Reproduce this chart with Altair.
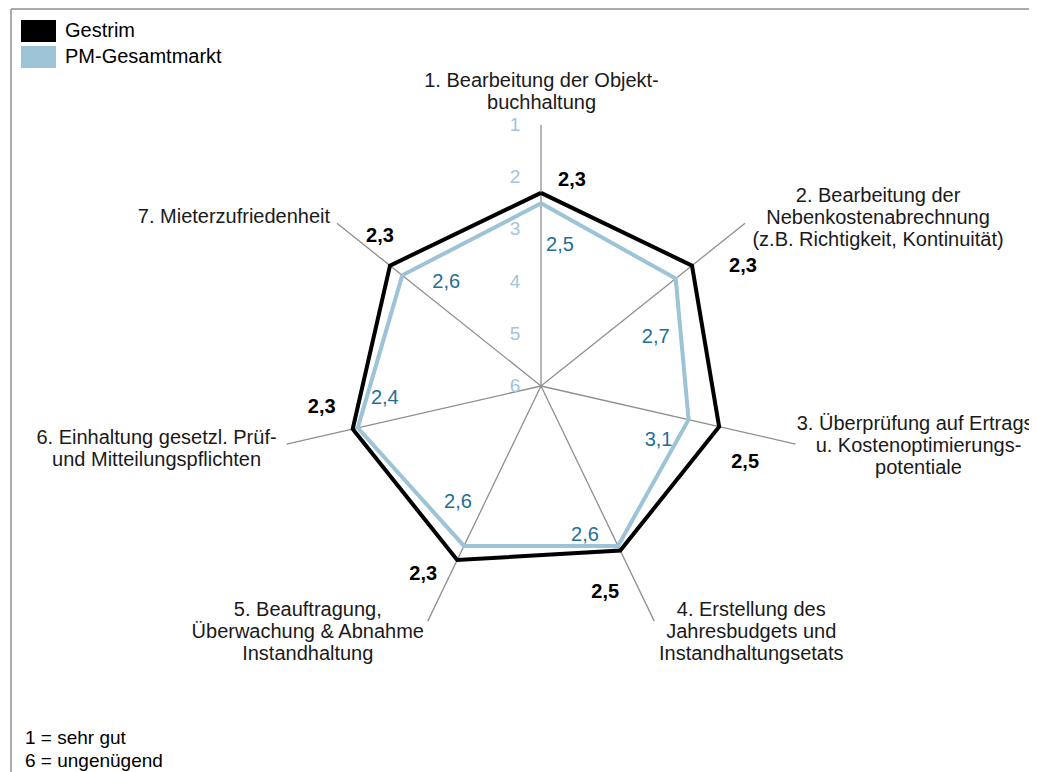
import math
import altair as alt
import pandas as pd

# ---------------- data ----------------
categories = [
    "1. Bearbeitung der Objekt-\nbuchhaltung",
    "2. Bearbeitung der\nNebenkostenabrechnung\n(z.B. Richtigkeit, Kontinuität)",
    "3. Überprüfung auf Ertrags-\nu. Kostenoptimierungs-\npotentiale",
    "4. Erstellung des\nJahresbudgets und\nInstandhaltungsetats",
    "5. Beauftragung,\nÜberwachung & Abnahme\nInstandhaltung",
    "6. Einhaltung gesetzl. Prüf-\nund Mitteilungspflichten",
    "7. Mieterzufriedenheit",
]
series_names = ["Gestrim", "PM-Gesamtmarkt"]
gestrim = [2.3, 2.3, 2.5, 2.5, 2.3, 2.3, 2.3]
pm_markt = [2.5, 2.7, 3.1, 2.6, 2.6, 2.4, 2.6]
scale_ticks = [1, 2, 3, 4, 5, 6]
note_lines = ["1 = sehr gut", "6 = ungenügend"]

# ---------------- layout ----------------
W, H = 1021, 764           # whole svg (autosize none, padding 0)
CX, CY = 533, 378          # centre of the radar in view pixels
U = 52.2                   # pixels per grade step
BEST, WORST = 1, 6
N = len(categories)
FONT = "Liberation Sans"
LH = 22                    # line height of the category labels

# pixel offsets of the text blocks (dx right, dy down)
cat_shift = [(0.5, -33), (133, -5), (123, 2), (97, 11), (-120, 11), (-130, 4.5), (-103, -6)]
g_shift = [(31, -13), (51, 0), (26, 35), (-15, 41), (-34, 14), (-31, -22), (-10, -30)]
p_shift = [(19, 42), (-20, 58), (-30, 20), (-33, -11), (-6, -44), (27, -30), (44, 7)]
tick_shift_x = -26
legend_box = (13, 48, 23, 26, 11)   # x1, x2, first row centre, row pitch, half height (view px)
legend_text_x = 57

GREY = "#8f8f8f"
BLUE = "#9cc3d6"
BLUE_TXT = "#1f6e96"
TICK_BLUE = "#a3c3e0"


def polar(value, i):
    r = WORST - value
    a = 2 * math.pi * i / N
    return r * math.sin(a), r * math.cos(a)


def px_x(px):
    return (px - CX) / U


def px_y(py):
    return (CY - py) / U


def fmt(v):
    return f"{v:.1f}".replace(".", ",")


xs = alt.Scale(domain=[-CX / U, (W - CX) / U], nice=False, zero=False)
ys = alt.Scale(domain=[-(H - CY) / U, CY / U], nice=False, zero=False)
X = lambda f="x": alt.X(f"{f}:Q", scale=xs, axis=None)
Y = lambda f="y": alt.Y(f"{f}:Q", scale=ys, axis=None)
cscale = alt.Scale(domain=series_names, range=["#000000", BLUE])

# spokes
spk = []
for i in range(N):
    x2, y2 = polar(BEST, i)
    spk.append({"x": 0.0, "y": 0.0, "x2": x2, "y2": y2})
spokes = alt.Chart(pd.DataFrame(spk)).mark_rule(color=GREY, strokeWidth=1.3).encode(
    x=X(), y=Y(), x2="x2:Q", y2="y2:Q"
)

# radar lines
rows = []
for name, vals in zip(series_names, [gestrim, pm_markt]):
    for k in range(N + 1):
        i = k % N
        x, y = polar(vals[i], i)
        rows.append({"series": name, "k": k, "x": x, "y": y})
ldf = pd.DataFrame(rows)


def radar(name):
    return alt.Chart(ldf[ldf.series == name]).mark_line(
        strokeWidth=4, strokeJoin="miter"
    ).encode(x=X(), y=Y(), order="k:Q",
             color=alt.Color("series:N", scale=cscale, legend=None))


pm_line = radar(series_names[1])
g_line = radar(series_names[0])

# value labels
gl, pl = [], []
for i in range(N):
    x, y = polar(gestrim[i], i)
    gl.append({"x": x + g_shift[i][0] / U, "y": y - g_shift[i][1] / U, "t": fmt(gestrim[i])})
    x, y = polar(pm_markt[i], i)
    pl.append({"x": x + p_shift[i][0] / U, "y": y - p_shift[i][1] / U, "t": fmt(pm_markt[i])})
g_text = alt.Chart(pd.DataFrame(gl)).mark_text(
    font=FONT, fontSize=20, fontWeight="bold", color="#000000", align="center", baseline="middle"
).encode(x=X(), y=Y(), text="t:N")
p_text = alt.Chart(pd.DataFrame(pl)).mark_text(
    font=FONT, fontSize=20, color=BLUE_TXT, align="center", baseline="middle"
).encode(x=X(), y=Y(), text="t:N")

# category labels (y = first line, block centred on the shift point)
cl = []
for i in range(N):
    x, y = polar(BEST, i)
    n = categories[i].count("\n") + 1
    first = cat_shift[i][1] - (n - 1) * LH / 2
    cl.append({"x": x + cat_shift[i][0] / U, "y": y - first / U, "t": categories[i]})
cat_text = alt.Chart(pd.DataFrame(cl)).mark_text(
    font=FONT, fontSize=20, color="#1a1a1a", align="center", baseline="middle",
    lineBreak="\n", lineHeight=LH,
).encode(x=X(), y=Y(), text="t:N")

# scale ticks
tk = [{"x": tick_shift_x / U, "y": WORST - v, "t": str(v)} for v in scale_ticks]
tick_text = alt.Chart(pd.DataFrame(tk)).mark_text(
    font=FONT, fontSize=19, color=TICK_BLUE, align="center", baseline="middle"
).encode(x=X(), y=Y(), text="t:N")

# legend (drawn by hand: wide filled boxes)
x1p, x2p, r0, pitch, hh = legend_box
lg = []
for j, name in enumerate(series_names):
    cy = r0 + j * pitch
    lg.append({"series": name, "x": px_x(x1p), "x2": px_x(x2p),
               "y": px_y(cy - hh), "y2": px_y(cy + hh),
               "tx": px_x(legend_text_x), "ty": px_y(cy)})
lgdf = pd.DataFrame(lg)
leg_box = alt.Chart(lgdf).mark_rect().encode(
    x=X(), x2="x2:Q", y=Y(), y2="y2:Q",
    color=alt.Color("series:N", scale=cscale, legend=None),
)
leg_txt = alt.Chart(lgdf).mark_text(
    font=FONT, fontSize=20, color="#000000", align="left", baseline="middle"
).encode(x=X("tx"), y=Y("ty"), text="series:N")

# frame (top and left edge of the outer border)
frame_top = alt.Chart(pd.DataFrame({"a": [0]})).mark_rule(color=GREY, strokeWidth=1.5).encode(
    x=alt.value(3), x2=alt.value(W), y=alt.value(1)
)
frame_left = alt.Chart(pd.DataFrame({"a": [0]})).mark_rule(color=GREY, strokeWidth=1.5).encode(
    x=alt.value(3), y=alt.value(1), y2=alt.value(H)
)

note = alt.Chart(pd.DataFrame({"a": [0]})).mark_text(
    font=FONT, fontSize=19, color="#000000", align="left", baseline="middle",
    lineBreak="\n", lineHeight=23,
).encode(x=alt.value(17), y=alt.value(730), text=alt.value("\n".join(note_lines)))

chart = alt.layer(
    frame_top, frame_left, spokes, pm_line, g_line, tick_text, g_text, p_text, cat_text,
    leg_box, leg_txt, note
).properties(
    width=W, height=H, padding=0, autosize=alt.AutoSizeParams(type="none")
).configure_view(stroke="transparent")

chart.save("out.html", embed_options={"renderer": "svg", "actions": False})
